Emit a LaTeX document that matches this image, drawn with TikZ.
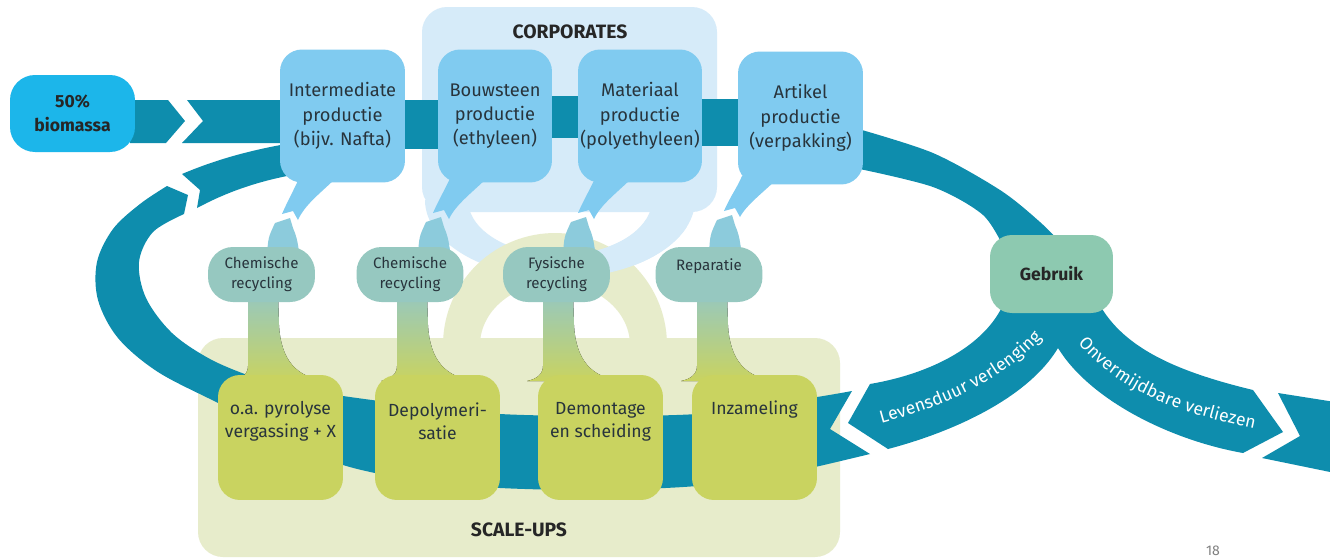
\documentclass[tikz,border=0pt]{standalone}
\usepackage{fontspec}
\setmainfont{Fira Sans}
\usetikzlibrary{decorations.text}
\definecolor{loopc}{RGB}{14,141,173}
\definecolor{biom}{RGB}{28,182,234}
\definecolor{procb}{RGB}{128,203,240}
\definecolor{corpbg}{RGB}{214,235,249}
\definecolor{scalebg}{RGB}{231,236,203}
\definecolor{recyc}{RGB}{150,200,192}
\definecolor{ybox}{RGB}{201,211,96}
\definecolor{gebr}{RGB}{141,201,176}
\definecolor{lowpc}{RGB}{140,203,220}
\definecolor{txt}{RGB}{40,52,60}
\newcommand{\uppertail}[2]{%
  \fill[procb] ({#1+8},176) -- ({#1+46},176) .. controls ({#1+30},192) and ({#1+13},204) .. ({#1+6},{#2+2}) -- ({#1+1},{#2-7}) -- ({#1-10},{#2-4}) .. controls ({#1-3},{#2-20}) and ({#1+3},188) .. cycle;
  \fill[lowpc] ({#1-17},{#2+5}) -- ({#1-2},{#2}) -- ({#1+1},{#2+10}) .. controls ({#1+5},{#2+20}) .. ({#1+8},{#2+40}) -- ({#1-25},{#2+40}) .. controls ({#1-24},{#2+20}) .. cycle;}
\newcommand{\stemshape}[1]{%
  \fill[top color=recyc, bottom color=ybox] (#1,292) -- (#1,366) .. controls (#1,374) and ({#1-6},379) .. ({#1-16},381) -- ({#1+80},381) .. controls ({#1+48},378) and ({#1+33},360) .. ({#1+31},325) -- ({#1+30},292) -- cycle;}
\begin{document}
\begin{tikzpicture}[x=0.02cm,y=-0.02cm,
  proc/.style={fill=procb, rounded corners=0.44cm, minimum width=2.5cm, minimum height=2.66cm, inner sep=0pt, align=center, text=txt, font=\fontsize{10.4}{13.8}\selectfont},
  rec/.style={fill=recyc, rounded corners=0.5cm, minimum width=2.14cm, minimum height=1.1cm, inner sep=0pt, align=center, text=txt, font=\fontsize{8.6}{11.3}\selectfont},
  ybx/.style={fill=ybox, rounded corners=0.44cm, minimum width=2.5cm, minimum height=2.5cm, inner sep=0pt},
  ytxt/.style={align=center, text=txt, font=\fontsize{10}{13}\selectfont, inner sep=0pt},
  gbx/.style={fill=gebr, rounded corners=0.44cm, minimum width=2.46cm, minimum height=1.56cm, font=\bfseries\fontsize{10}{12}\selectfont, text=black!85},
  biox/.style={fill=biom, rounded corners=0.5cm, minimum width=2.5cm, minimum height=1.54cm, inner sep=0pt, align=center, font=\bfseries\fontsize{10}{13.6}\selectfont, text=black!85},
  hdr/.style={font=\bfseries\fontsize{11}{13}\selectfont, text=black!85},
  bandtxt/.style={decorate, decoration={text along path, text align=center, raise=-3.5pt, text={|\color{white}\fontsize{10}{12}\selectfont|#1}}}
]
\useasboundingbox (0,0) rectangle (1330,559);
\fill[white] (0,0) rectangle (1330,559);

% corporates background
\fill[corpbg, rounded corners=0.5cm] (422,7) rectangle (717,212);
\fill[corpbg, even odd rule] plot[domain=0:180,samples=60] ({560+135*cos(\x)},{200+78*sin(\x)}) -- cycle plot[domain=0:180,samples=60] ({560+92*cos(\x)},{200+55*sin(\x)}) -- cycle;
% scale-ups background
\fill[scalebg, even odd rule] plot[domain=180:360,samples=60] ({555+112*cos(\x)},{345+112*sin(\x)}) -- cycle plot[domain=180:360,samples=60] ({555+75*cos(\x)},{345+62*sin(\x)}) -- cycle;
\fill[scalebg, rounded corners=0.5cm] (198,338) rectangle (840,557);
\fill[corpbg] plot[domain=20:75,samples=30] ({560+135*cos(\x)},{200+78*sin(\x)}) -- plot[domain=75:20,samples=30] ({560+92*cos(\x)},{200+55*sin(\x)}) -- cycle;

\node[hdr] (corpl) at (570,32) {CORPORATES};
\node[hdr] (scalel) at (519,530) {SCALE-UPS};

% main loop
\fill[loopc] (188,195) -- plot[smooth, tension=0.55] coordinates {(167,186) (140,204) (113,229) (97,262) (98,300) (118,338) (158,372) (220,404) (290,440) (343,465) (420,481) (500,488) (600,490) (697,486) (770,476) (815,467) (870,454)} -- (830,429) -- plot[smooth, tension=0.55] coordinates {(852,391) (817,397) (760,405) (697,414) (600,416) (500,414) (420,406) (343,396) (290,387) (253,377) (210,359) (172,333) (146,298) (139,262) (153,232) (184,214)} -- cycle;
\fill[loopc] (130,100) -- (168,100) -- (185,121) -- (166,143) -- (130,143) -- cycle;
\fill[loopc] (187,100) -- (290,100) -- (290,143) -- (182,143) -- (203,121) -- cycle;
\fill[loopc] (182,174) .. controls (215,160) and (250,150) .. (292,143) -- (292,175) .. controls (255,182) and (225,193) .. (197,208) -- (200,190) -- cycle;
\fill[loopc] (395,100) rectangle (448,149);
\fill[loopc] (545,96) rectangle (585,138);
\fill[loopc] (695,99) rectangle (745,146);
\fill[loopc] plot[smooth] coordinates {(855,128) (933,153) (1000,190) (1040,222) (1068,250)} -- plot[smooth] coordinates {(1005,250) (983,215) (933,187) (855,168)} -- cycle;
\fill[loopc] (1005,300) .. controls (990,340) and (940,372) .. (870,384) -- (848,423) -- (888,449) .. controls (960,430) and (1030,395) .. (1058,348) .. controls (1090,400) and (1170,440) .. (1243,453) -- (1283,432) -- (1253,390) .. controls (1170,370) and (1120,345) .. (1097,300) -- cycle;
\fill[loopc] (1278,393) -- (1335,402) -- (1335,473) -- (1262,458) -- (1300,436) -- cycle;

% tails and stems
\uppertail{292}{218}
\uppertail{443}{217}
\uppertail{588}{217}
\uppertail{734}{215}
\stemshape{248}
\stemshape{397}
\stemshape{543}
\stemshape{697}

% nodes
\node[biox] (bio) at (72.5,113.5) {50\%\\biomassa};
\node[proc] (inter) at (342.5,116) {Intermediate\\productie\\(bijv. Nafta)};
\node[proc, minimum width=2.28cm] (bouw) at (495,116) {Bouwsteen\\productie\\(ethyleen)};
\node[proc, minimum width=2.48cm] (mat) at (640,116) {Materiaal\\productie\\(polyethyleen)};
\node[proc] (art) at (800.5,118) {Artikel\\productie\\(verpakking)};

\node[rec] (rc1) at (261.5,274.5) {Chemische\\recycling};
\node[rec] (rc2) at (410,274.5) {Chemische\\recycling};
\node[rec] (rc3) at (556.5,274.5) {Fysische\\recycling};
\node[rec] (rc4) at (709,274.5) {Reparatie\\\mbox{}};

\node[ybx] (pyro) at (280.5,437.5) {};
\node[ybx] (depo) at (437.5,437.5) {};
\node[ybx] (demo) at (600.5,437.5) {};
\node[ybx] (inza) at (754.5,437.5) {};
\node[ytxt] (pyrot) at ([yshift=0.32cm]pyro.center) {o.a. pyrolyse\\vergassing + X};
\node[ytxt] (depot) at ([yshift=0.32cm]depo.center) {Depolymeri-\\satie};
\node[ytxt] (demot) at ([yshift=0.32cm]demo.center) {Demontage\\en scheiding};
\node[ytxt] (inzat) at ([yshift=0.55cm]inza.center) {Inzameling};

\node[gbx] (geb) at (1051.5,274) {Gebruik};

\path[bandtxt={Levensduur verlenging}] (862,422) .. controls (930,405) and (1000,380) .. (1050,320);
\path[bandtxt={Onvermijdbare verliezen}] (1066,318) .. controls (1112,385) and (1175,408) .. (1282,428);

\node[text=gray, font=\fontsize{8}{9}\selectfont] (pnum) at (1213,551) {18};
\end{tikzpicture}
\end{document}
